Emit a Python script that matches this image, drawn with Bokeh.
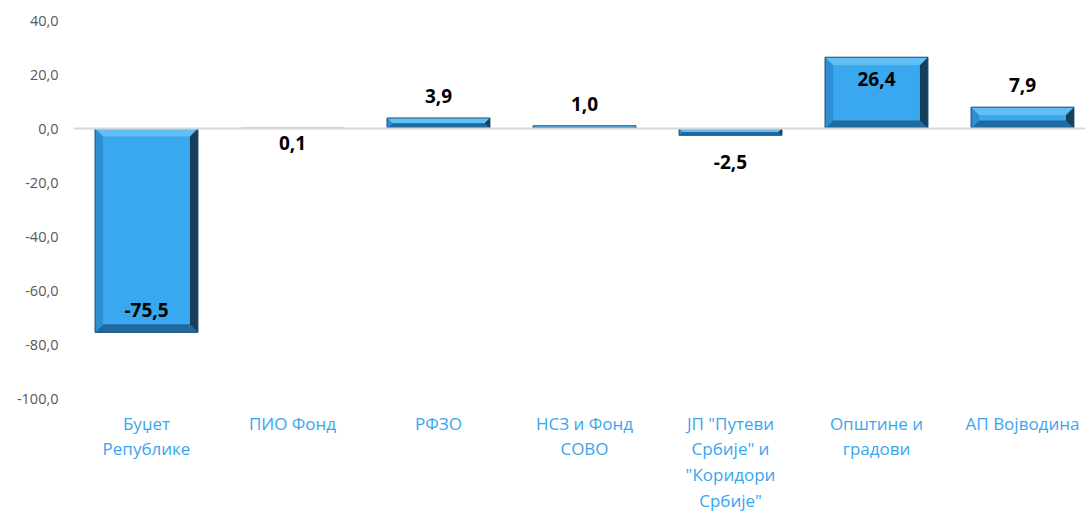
from bokeh.plotting import figure
from bokeh.models import ColumnDataSource, FixedTicker, CustomJSTickFormatter, Span
from bokeh.core.properties import value
from bokeh.embed import file_html
from bokeh.resources import INLINE

categories = ["Буџет\nРепублике", "ПИО Фонд", "РФЗО", "НСЗ и Фонд\nСОВО",
              "ЈП \"Путеви\nСрбије\" и\n\"Коридори\nСрбије\"", "Општине и\nградови", "АП Војводина"]
values = [-75.5, 0.1, 3.9, 1.0, -2.5, 26.4, 7.9]
label_texts = ["-75,5", "0,1", "3,9", "1,0", "-2,5", "26,4", "7,9"]
label_side = ["inside", "below", "outside", "outside", "outside", "inside", "outside"]
y_ticks = [-100, -80, -60, -40, -20, 0, 20, 40]

W, H = 1085, 513
left, top, bottom = 73, 20, 115
x_start = -0.5
px_per_x = 146.0
x_end = x_start + (W - left) / px_per_x
y_start, y_end = -100, 40
px_per_y = (H - top - bottom) / (y_end - y_start)

p = figure(width=W, height=H, output_backend="svg", toolbar_location=None,
           x_range=(x_start, x_end), y_range=(y_start, y_end),
           min_border_left=left, min_border_right=0, min_border_top=top, min_border_bottom=bottom)
p.frame_width = W - left
p.frame_height = H - top - bottom
p.outline_line_color = None
p.grid.visible = False
p.background_fill_color = "white"
p.border_fill_color = "white"

xs = list(range(len(values)))
bw = 0.705
face, topc, leftc, botc, rightc = "#3AA8EE", "#62BFF4", "#2C8FD2", "#1F6A9E", "#163F5E"

p.add_layout(Span(location=0, dimension="width", line_color="#D9D9D9", line_width=2))

# bars with bevel
x0s = [x - bw / 2 for x in xs]
x1s = [x + bw / 2 for x in xs]
b0s = [min(0, v) for v in values]
b1s = [max(0, v) for v in values]
p.quad(left=x0s, right=x1s, bottom=b0s, top=b1s, fill_color=face, line_color=None)

tops, lefts, bots, rights = [[], []], [[], []], [[], []], [[], []]
for x0, x1, y0, y1 in zip(x0s, x1s, b0s, b1s):
    hpx = (y1 - y0) * px_per_y
    b = min(8.0, hpx / 2.0)
    dx = b / px_per_x
    dy = b / px_per_y
    tops[0].append([x0, x1, x1 - dx, x0 + dx]); tops[1].append([y1, y1, y1 - dy, y1 - dy])
    bots[0].append([x0, x1, x1 - dx, x0 + dx]); bots[1].append([y0, y0, y0 + dy, y0 + dy])
    lefts[0].append([x0, x0 + dx, x0 + dx, x0]); lefts[1].append([y0, y0 + dy, y1 - dy, y1])
    rights[0].append([x1, x1 - dx, x1 - dx, x1]); rights[1].append([y0, y0 + dy, y1 - dy, y1])
for (px, py), c in [(tops, topc), (bots, botc), (lefts, leftc), (rights, rightc)]:
    p.patches(px, py, fill_color=c, line_color=None)
p.quad(left=x0s, right=x1s, bottom=b0s, top=b1s, fill_color=None, line_color="#1B4D73", line_width=1)

# data labels
offs = []
for v, s in zip(values, label_side):
    if s == "inside":
        offs.append(22 if v > 0 else -22)
    elif s == "below":
        offs.append(15)
    else:
        offs.append(-22 if v > 0 else 27)
src = ColumnDataSource(dict(x=xs, y=values, t=label_texts, off=offs))
p.text(x="x", y="y", text="t", y_offset="off", source=src, text_align="center", text_baseline="middle",
       text_font=value("Open Sans"), text_font_style="bold", text_font_size="19px", text_color="#000000")

# axes
p.yaxis.ticker = FixedTicker(ticks=y_ticks)
p.yaxis.formatter = CustomJSTickFormatter(code="return tick.toFixed(1).replace('.', ',');")
p.yaxis.axis_line_color = None
p.yaxis.major_tick_line_color = None
p.yaxis.minor_tick_line_color = None
p.yaxis.major_label_standoff = 9
p.yaxis.major_label_text_font = "Open Sans"
p.yaxis.major_label_text_font_size = "14.5px"
p.yaxis.major_label_text_color = "#595959"

p.xaxis.ticker = FixedTicker(ticks=xs)
p.xaxis.major_label_overrides = {x: c for x, c in zip(xs, categories)}
p.xaxis.axis_line_color = None
p.xaxis.major_tick_line_color = None
p.xaxis.minor_tick_line_color = None
p.xaxis.major_label_standoff = 7
p.xaxis.major_label_text_font = "Open Sans"
p.xaxis.major_label_text_font_size = "17px"
p.xaxis.major_label_text_color = "#3AA5EE"
p.xaxis.major_label_text_line_height = 1.12

open("out.html", "w").write(file_html(p, INLINE))
